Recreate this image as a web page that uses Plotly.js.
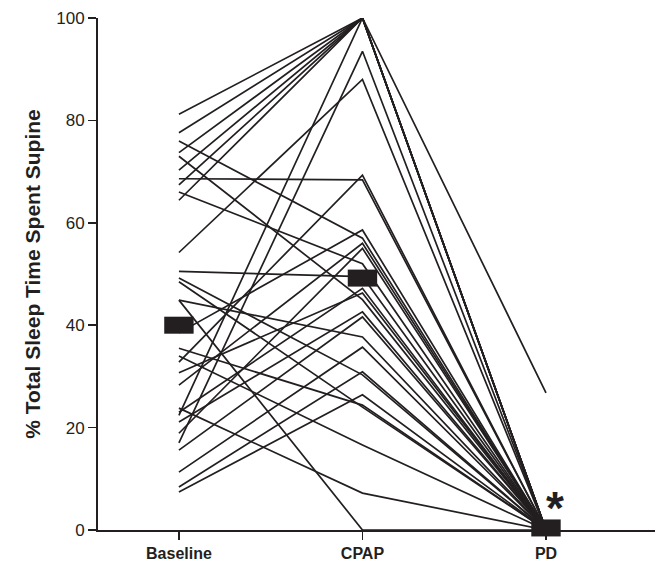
<!DOCTYPE html>
<html>
<head>
<meta charset="utf-8">
<script src="https://cdn.plot.ly/plotly-3.0.1.min.js"></script>
<style>html,body{margin:0;padding:0;background:#fff;}#chart{width:668px;height:569px;}</style>
</head>
<body>
<div id="chart"></div>
<script>
const categories = ["Baseline", "CPAP", "PD"];
const baseline = [81.2, 77.6, 76.0, 73.7, 73.0, 70.3, 68.6, 67.4, 64.4, 54.2, 50.5, 49.2, 44.9, 44.9, 38.5, 35.5, 34.0, 32.8, 30.7, 28.3, 23.8, 23.0, 22.4, 21.1, 18.9, 17.0, 15.6, 11.3, 8.4, 7.4, 48.5, 66.0];
const cpap     = [100, 100, 57.0, 100, 45.0, 100, 68.4, 100, 100, 88.0, 49.5, 30.3, 0, 37.7, 58.6, 24.4, 16.6, 69.3, 46.3, 56.0, 7.2, 47.2, 100, 42.6, 55.0, 93.5, 41.6, 35.7, 30.9, 26.4, 24.0, 52.0];
const pd       = [26.8, 0, 0, 0, 0, 0, 0, 0, 0, 0, 0, 0, 0, 0, 0, 0, 0, 0, 0, 0, 0, 0, 0, 0, 0, 0, 0, 0, 0, 0, 0, 0];
const groupMeans = [40.0, 49.2, 0.4];

const xs = [0, 1, 2];
const traces = [];
for (let i = 0; i < baseline.length; i++) {
  traces.push({
    type: "scatter", mode: "lines",
    x: xs, y: [baseline[i], cpap[i], pd[i]],
    line: {color: "#231f20", width: 1.7},
    hoverinfo: "skip", showlegend: false, cliponaxis: false
  });
}
traces.push({
  type: "scatter", mode: "markers",
  x: xs, y: groupMeans,
  marker: {symbol: "line-ew-open", size: 21, color: "#231f20", line: {color: "#231f20", width: 17}},
  showlegend: false, cliponaxis: false
});

const layout = {
  width: 668, height: 569,
  margin: {l: 98, r: 13, t: 18, b: 39},
  paper_bgcolor: "#fff", plot_bgcolor: "#fff",
  showlegend: false,
  font: {family: "Liberation Sans, Arial, sans-serif", color: "#231f20"},
  xaxis: {
    range: [-0.441, 2.594], tickvals: xs, ticktext: categories,
    showgrid: false, zeroline: false, showline: true, linecolor: "#231f20", linewidth: 2,
    ticks: "outside", ticklen: 8, tickwidth: 1.5, tickcolor: "#231f20",
    tickfont: {size: 16, family: "Liberation Sans Narrow, Liberation Sans, Arial, sans-serif", weight: "bold", color: "#231f20"}
  },
  yaxis: {
    range: [0, 100], tickvals: [0, 20, 40, 60, 80, 100],
    showgrid: false, zeroline: false, showline: true, linecolor: "#231f20", linewidth: 2,
    ticks: "outside", ticklen: 8, tickwidth: 1.5, tickcolor: "#231f20",
    tickfont: {size: 17, family: "Liberation Sans Narrow, Liberation Sans, Arial, sans-serif", color: "#231f20"},
    title: {text: "% Total Sleep Time Spent Supine", standoff: 10,
      font: {size: 21, family: "Liberation Sans Narrow, Liberation Sans, Arial, sans-serif", weight: "bold", color: "#231f20"}}
  },
  annotations: [{
    x: 2, y: 0, xref: "x", yref: "y", text: "*", showarrow: false,
    xshift: 9, yshift: 22, font: {size: 46, family: "Liberation Sans, Arial, sans-serif", weight: "bold", color: "#231f20"}
  }]
};
Plotly.newPlot("chart", traces, layout, {displayModeBar: false, staticPlot: true});
</script>
</body>
</html>
